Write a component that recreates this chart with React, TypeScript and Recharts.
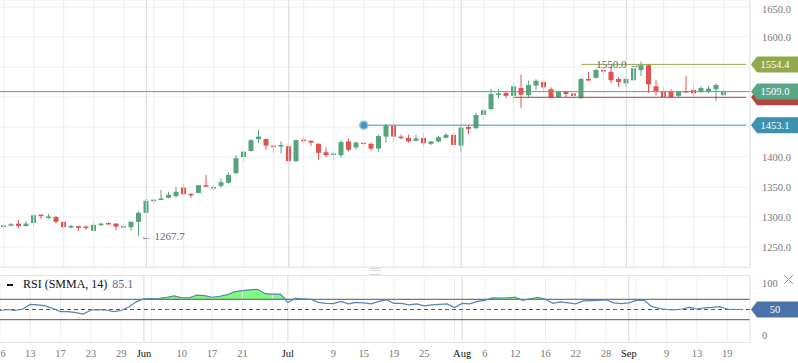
import {
  Area,
  Bar,
  CartesianGrid,
  ComposedChart,
  Line,
  ReferenceDot,
  ReferenceLine,
  XAxis,
  YAxis,
} from 'recharts'

// daily candles, 6 May .. 20 Sep
const OPEN = [
  1285, 1287, 1289, 1285, 1290, 1304, 1300, 1300, 1292, 1284, 1285, 1284, 1277, 1288, 1290, 1289, 1284, 1283, 1292, 1307,
  1327, 1330, 1332, 1335, 1349, 1338.5, 1340, 1353, 1349, 1352, 1357, 1373, 1400, 1410, 1430, 1430, 1419, 1418, 1418, 1393,
  1429, 1427, 1422, 1408, 1405, 1403, 1426, 1416, 1424, 1422, 1414, 1434, 1452, 1434, 1432, 1427, 1432, 1422, 1426, 1432,
  1437, 1419, 1450, 1448, 1470, 1480, 1505, 1507, 1502, 1515, 1503, 1519, 1525, 1513, 1500, 1509, 1506, 1498, 1530, 1532,
  1545, 1542, 1530, 1523, 1528, 1545, 1553, 1518, 1509, 1509, 1502, 1510, 1512, 1509, 1509, 1513, 1503,
]
const HIGH = [
  1288, 1290, 1295, 1293, 1305, 1304, 1305, 1302, 1293, 1287, 1285, 1286, 1290, 1290, 1291, 1290, 1288, 1293, 1309, 1330,
  1331, 1345, 1342, 1350, 1355, 1340, 1353, 1370, 1353, 1364, 1374, 1403, 1411, 1430, 1445, 1431, 1419, 1426, 1419, 1429,
  1435, 1428, 1423, 1416, 1409, 1428, 1431, 1426, 1425, 1424, 1437, 1455, 1453, 1437, 1437, 1437, 1440, 1427, 1435, 1440,
  1441, 1452, 1453, 1474, 1480, 1514, 1513, 1508, 1524, 1537, 1527, 1530, 1526, 1516, 1511, 1510, 1507, 1532, 1542, 1547,
  1548, 1551, 1533, 1532, 1550, 1559, 1555, 1528, 1516, 1513, 1510, 1535, 1520, 1518, 1518, 1523, 1513,
]
const LOW = [
  1282, 1285, 1282, 1284, 1284, 1297, 1297, 1289, 1280, 1281, 1277, 1279, 1277, 1285, 1288, 1278, 1281, 1277, 1267.7, 1306,
  1323, 1328, 1331, 1332, 1335, 1332, 1340, 1350, 1344, 1349, 1356, 1372, 1392, 1409, 1423, 1412, 1407, 1406, 1392, 1392,
  1423, 1419, 1395, 1400, 1394, 1399, 1409, 1412, 1421, 1410, 1409, 1424, 1427, 1429.5, 1424, 1426, 1417, 1420, 1424, 1431,
  1417, 1408, 1438, 1447, 1464, 1478, 1498, 1498, 1491, 1482, 1500, 1512, 1507, 1498, 1499, 1500, 1497, 1497, 1527, 1531,
  1535, 1523, 1517, 1518, 1527, 1535, 1507, 1503, 1499, 1499, 1499, 1507, 1498, 1507, 1506, 1494, 1502,
]
const CLOSE = [
  1286, 1288, 1285, 1289, 1303, 1302, 1301, 1292, 1283, 1285, 1282, 1283, 1287, 1289, 1288.5, 1284, 1285, 1292, 1307, 1327,
  1329, 1331, 1337, 1342, 1338, 1338, 1353, 1351.5, 1350, 1358, 1370, 1398, 1409, 1428, 1434, 1419, 1418, 1420, 1393, 1428,
  1427.5, 1424, 1407, 1403, 1406, 1425, 1412, 1424, 1423, 1414, 1435, 1452, 1434, 1433, 1426, 1431, 1423, 1426, 1433, 1437,
  1420, 1449, 1447, 1470, 1478, 1505, 1506, 1502, 1518, 1504, 1520, 1527, 1516, 1499, 1509, 1505, 1502, 1530, 1529, 1545,
  1544, 1528, 1525, 1530, 1548, 1553, 1521, 1510, 1500, 1500, 1509, 1508, 1506, 1515, 1514, 1520, 1509,
]
const RSI = [
  48, 50, 48, 51, 60, 59, 57, 52, 46, 46, 44, 41, 49, 49.5, 49, 46, 48, 55, 65, 71,
  71.5, 72, 74, 76.5, 73, 73, 78, 77, 74, 76, 79, 85, 87, 88.5, 89.5, 81, 80, 80, 63.5, 72,
  71, 70, 64, 62, 61.5, 66, 61, 64, 63, 61, 66, 69, 62, 62, 59, 61, 57, 59, 60, 61,
  54, 62, 61, 66, 68, 73, 72.5, 73, 74, 68, 71, 74, 70, 62, 65, 63, 61, 67, 67.5, 68,
  69, 63, 61.5, 63, 68, 68.5, 56, 52, 50, 49, 51, 54, 51, 53, 54, 55.5, 51, 50, 50,
]

const PRICE_TICKS = [1250, 1300, 1350, 1400, 1450, 1500, 1550, 1600, 1650]
const RSI_TICKS = [0, 50, 100]
// tick labels hidden under the price tags
const COVERED = [1450, 1500, 1550, 50]
const TICK_IDX = [0, 4, 8, 12, 16, 19, 24, 28, 32, 38, 44, 48, 52, 56, 61, 64, 68, 72, 76, 80, 83, 88, 92, 96]
const TICK_LABELS = ['6', '13', '17', '23', '29', 'Jun', '10', '17', '21', 'Jul', '9', '15', '19', '25', 'Aug', '6', '12', '16', '22', '28', 'Sep', '9', '13', '19']
const MONTH_IDX = [19, 38, 61, 83]
const GRID_IDX = Array.from({ length: 25 }, (_, k) => k * 4)

const rows = Array.from({ length: 100 }, (_, i) => ({
  i,
  open: OPEN[i],
  high: HIGH[i],
  low: LOW[i],
  close: CLOSE[i],
  rsi: RSI[i],
}))

const FONT = "'Liberation Serif', 'Times New Roman', serif"
const UP = '#56a47c'
const DOWN = '#e2534f'
const GRID = '#eceef1'
const MONTH = '#d5d8dc'

function Candle(props: any) {
  const { x, y, width, height, payload } = props
  if (!payload || payload.open == null) return null
  const { open, close, high, low } = payload
  const top = Math.min(y, y + height)
  const h = Math.abs(height)
  const px = (v: number) => (high === low ? top : top + ((high - v) / (high - low)) * h)
  const color = close >= open ? UP : DOWN
  const cx = x + width / 2
  const bodyTop = px(Math.max(open, close))
  const bodyH = Math.max(1.5, px(Math.min(open, close)) - bodyTop)
  return (
    <g>
      <line x1={cx} x2={cx} y1={top} y2={top + h} stroke={color} strokeWidth={1} />
      <rect x={cx - 2.5} y={bodyTop} width={5} height={bodyH} fill={color} />
    </g>
  )
}

function tag(fill: string, text: string) {
  return (p: any) => {
    const vb = p.viewBox || {}
    const x0 = vb.x + vb.width
    const cy = vb.y
    return (
      <g>
        <path d={`M${x0 + 1},${cy} L${x0 + 7},${cy - 8} L798,${cy - 8} L798,${cy + 8} L${x0 + 7},${cy + 8} Z`} fill={fill} />
        {text && (
          <text x={x0 + 25} y={cy} dy={3.5} textAnchor="middle" fill="#fff" fontSize={10.5} fontFamily={FONT}>
            {text}
          </text>
        )}
      </g>
    )
  }
}

function note(text: string, anchor: 'start' | 'end') {
  return (p: any) => {
    const vb = p.viewBox || {}
    return (
      <text x={anchor === 'end' ? vb.x - 1 : vb.x + 2} y={vb.y} dy={3.5} textAnchor={anchor} fill="#666" fontSize={11} fontFamily={FONT}>
        {text}
      </text>
    )
  }
}

function ValueTick(props: any) {
  const { x, y, payload, decimals } = props
  if (COVERED.includes(payload.value)) return null
  return (
    <text x={x} y={y} dy={3.5} textAnchor="start" fill="#777" fontSize={10.5} fontFamily={FONT}>
      {decimals ? payload.value.toFixed(1) : payload.value}
    </text>
  )
}

function DateTick(props: any) {
  const { x, y, payload } = props
  const k = TICK_IDX.indexOf(payload.value)
  const isMonth = MONTH_IDX.includes(payload.value)
  return (
    <text x={Math.max(x, 3)} y={y} dy="0.71em" textAnchor="middle" fill={isMonth ? '#111' : '#777'} fontSize={10.5} fontFamily={FONT}>
      {TICK_LABELS[k]}
    </text>
  )
}

function vgrid() {
  return [
    ...GRID_IDX.map((i) => <ReferenceLine key={'g' + i} x={i} stroke={GRID} />),
    ...MONTH_IDX.map((i) => <ReferenceLine key={'m' + i} x={i} stroke={MONTH} />),
  ]
}

export default function App() {
  return (
    <div style={{ position: 'absolute', left: 0, top: 0, width: 798, height: 363, background: '#fff', fontFamily: FONT, overflow: 'hidden' }}>
      <div style={{ position: 'absolute', left: 0, top: 0 }}>
        <ComposedChart width={798} height={267} data={rows} margin={{ top: 0, right: 0, bottom: 0, left: 0 }}>
          <CartesianGrid vertical={false} stroke={GRID} />
          <XAxis dataKey="i" hide />
          <YAxis
            orientation="right"
            width={48}
            domain={[1216.7, 1661.7]}
            ticks={PRICE_TICKS}
            axisLine={{ stroke: '#dcdfe3' }}
            tickLine={false}
            tickMargin={6}
            tick={<ValueTick decimals />}
          />
          {vgrid()}
          <ReferenceLine y={1509} stroke="#5aa584" />
          <ReferenceLine segment={[{ x: 68, y: 1499.5 }, { x: 99, y: 1499.5 }]} stroke="#b3443f" />
          <ReferenceLine segment={[{ x: 48, y: 1453.1 }, { x: 99, y: 1453.1 }]} stroke="#3d90ae" />
          <ReferenceLine segment={[{ x: 77, y: 1554.4 }, { x: 99, y: 1554.4 }]} stroke="#93a84a" />
          <Bar
            dataKey={(d: any) => (d.low == null ? null : [d.low, d.high])}
            barSize={5}
            shape={(p: any) => <Candle {...p} />}
            isAnimationActive={false}
          />
          <ReferenceDot x={48} y={1453.1} r={4} fill="#4596b8" stroke="#8cc3dc" strokeWidth={1.5} />
          <ReferenceDot x={85} y={1554.4} r={0} stroke="none" label={note('1550.0 →', 'end')} />
          <ReferenceDot x={18} y={1267.7} r={0} stroke="none" label={note('← 1267.7', 'start')} />
          <ReferenceLine y={1554.4} stroke="none" label={tag('#93a84a', '1554.4')} />
          <ReferenceLine y={1499.5} stroke="none" label={tag('#b3443f', '')} />
          <ReferenceLine y={1509} stroke="none" label={tag('#5aa584', '1509.0')} />
          <ReferenceLine y={1453.1} stroke="none" label={tag('#3d90ae', '1453.1')} />
        </ComposedChart>
      </div>

      <div style={{ position: 'absolute', left: 0, top: 267, width: 750, height: 1, background: '#e3e5e8' }} />
      <div style={{ position: 'absolute', left: 370, top: 268, width: 11, height: 5, borderTop: '1px solid #d8d8d8', borderBottom: '1px solid #d8d8d8' }}>
        <div style={{ marginTop: 1, height: 1, background: '#d8d8d8' }} />
      </div>

      <div style={{ position: 'absolute', left: 0, top: 268 }}>
        <ComposedChart width={798} height={95} data={rows} margin={{ top: 7, right: 0, bottom: 0, left: 0 }}>
          <XAxis dataKey="i" ticks={TICK_IDX} interval={0} tick={<DateTick />} axisLine={false} tickLine={false} height={21} />
          <YAxis
            orientation="right"
            width={48}
            domain={[-13.7, 117.6]}
            ticks={RSI_TICKS}
            axisLine={{ stroke: '#dcdfe3' }}
            tickLine={false}
            tickMargin={6}
            tick={<ValueTick />}
          />
          {vgrid()}
          <ReferenceLine y={70} stroke="#555" />
          <ReferenceLine y={30} stroke="#555" />
          <ReferenceLine y={50} stroke="#555" strokeDasharray="4 3" />
          <Area
            dataKey={(d: any) => (d.rsi == null ? null : [70, Math.max(70, d.rsi)])}
            stroke="none"
            fill="#7dfb7d"
            fillOpacity={1}
            isAnimationActive={false}
          />
          <Line dataKey="rsi" stroke="#5682b8" strokeWidth={1.2} dot={false} isAnimationActive={false} />
          <ReferenceLine y={50} stroke="none" label={tag('#4a72a8', '50')} />
        </ComposedChart>
      </div>

      <div style={{ position: 'absolute', left: 0, top: 275, width: 750, height: 1, background: '#e3e5e8' }} />
      <div style={{ position: 'absolute', left: 0, top: 342, width: 750, height: 1, background: '#e3e5e8' }} />

      <div style={{ position: 'absolute', left: 7, top: 284, width: 6, height: 2, background: '#111' }} />
      <div style={{ position: 'absolute', left: 23, top: 277, fontSize: 12, color: '#111', whiteSpace: 'nowrap' }}>
        RSI (SMMA, 14) <span style={{ color: '#4a6fa5', marginLeft: 2 }}>85.1</span>
      </div>
      <svg style={{ position: 'absolute', left: 783, top: 274 }} width={11} height={11}>
        <line x1={1} y1={1} x2={10} y2={10} stroke="#999" strokeWidth={1} />
        <line x1={10} y1={1} x2={1} y2={10} stroke="#999" strokeWidth={1} />
      </svg>
    </div>
  )
}
